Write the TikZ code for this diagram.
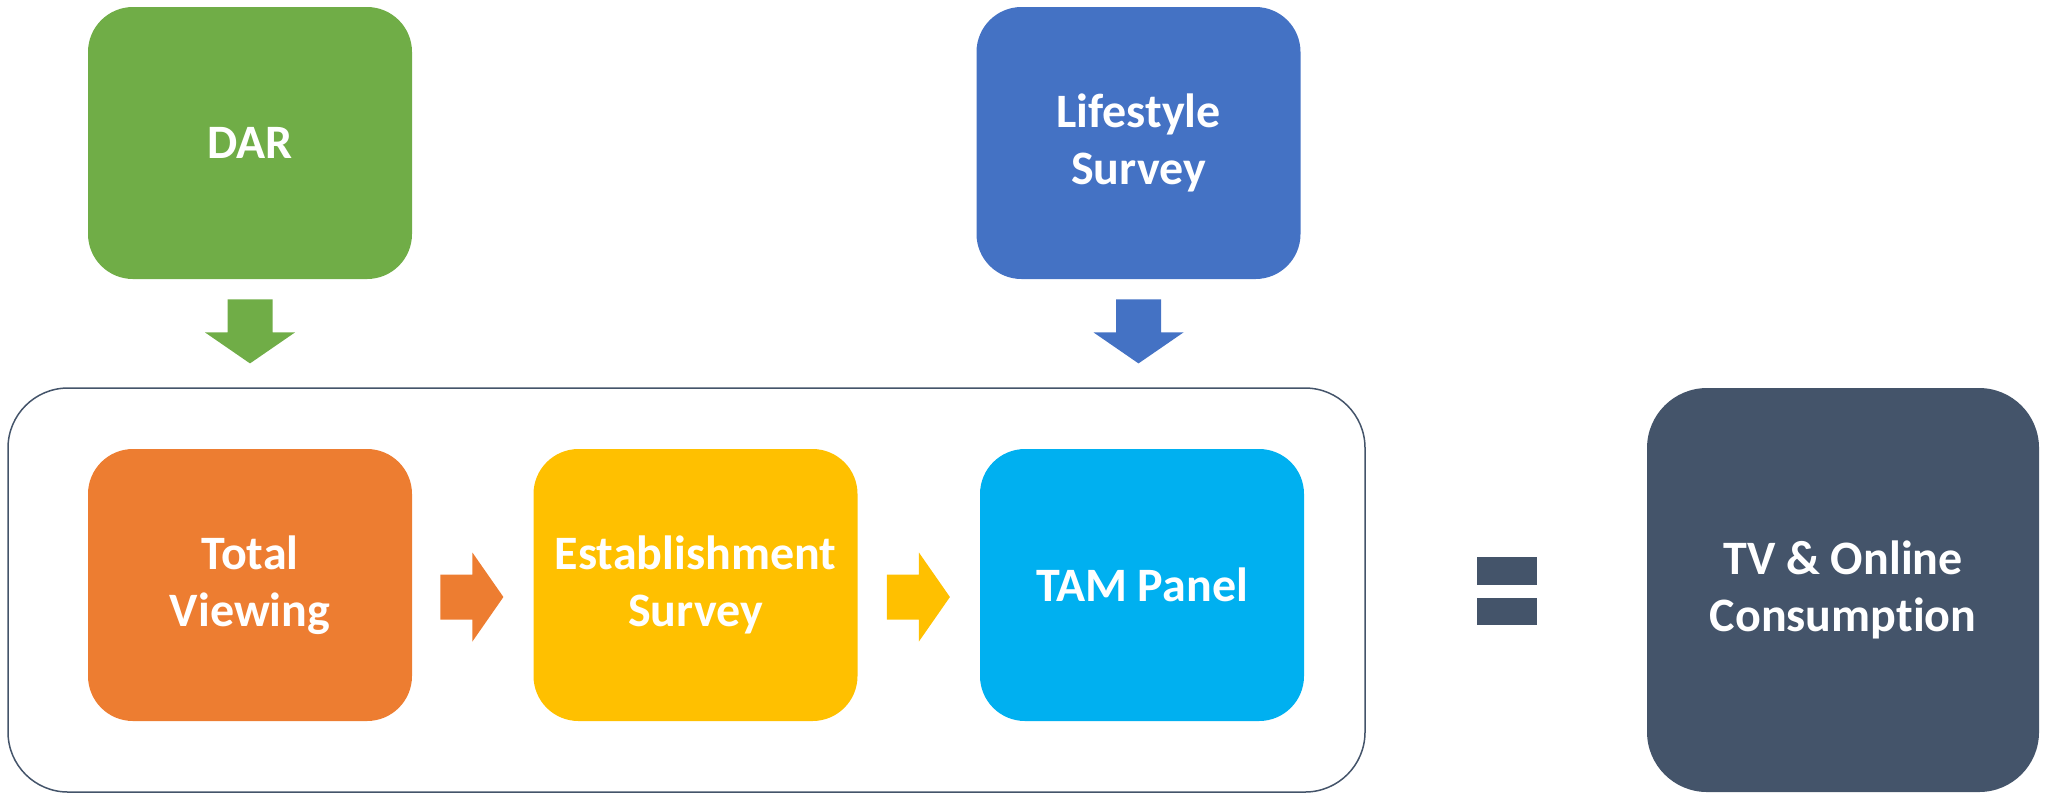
\documentclass[tikz,border=0pt]{standalone}
\usepackage{fontspec}
\setmainfont[Ligatures=NoCommon]{Carlito}
\usetikzlibrary{calc}
\definecolor{cgreen}{HTML}{70AD47}
\definecolor{cblue}{HTML}{4472C4}
\definecolor{corange}{HTML}{ED7D31}
\definecolor{cyellow}{HTML}{FFC000}
\definecolor{ccyan}{HTML}{00B0F0}
\definecolor{cslate}{HTML}{44546A}
\begin{document}
\begin{tikzpicture}[x=0.5pt,y=-0.5pt,
  label text/.style={text=white, align=center,
    font=\bfseries\fontsize{24}{28.5}\selectfont},
  box/.style={label text, rounded corners=22.5pt, minimum width=162pt,
    minimum height=136pt, inner sep=0pt},
  bigbox/.style={rounded corners=30pt, minimum height=202pt, inner sep=0pt},
]
\useasboundingbox (0,0) rectangle (2048,800);

% grouping frame and result box
\node[bigbox, draw=cslate, line width=0.75pt, minimum width=678.5pt] (group) at (686.5,590) {};
\node[bigbox, label text, fill=cslate, minimum width=196pt] (tv) at (1843,590) {TV \& Online\\Consumption};

% source boxes
\node[box, fill=cgreen] (dar) at (250,143) {DAR};
\node[box, fill=cblue] (life) at (1138.5,143) {Lifestyle\\Survey};

% panel chain
\node[box, fill=corange] (total) at (250,585) {Total\\Viewing};
\node[box, fill=cyellow] (estab) at (695.5,585) {Establishment\\Survey};
\node[box, fill=ccyan] (tam) at (1142,585) {TAM Panel};

% block arrows pointing down into the frame
\foreach \src/\col in {dar/cgreen, life/cblue}{
  \fill[\col] ($(\src.south)+(-22.5,20)$) -- ++(45,0) -- ++(0,33) -- ++(22.5,0)
    -- ++(-45,31) -- ++(-45,-31) -- ++(22.5,0) -- cycle;
}

% block arrows along the chain
\foreach \src/\col/\gap in {total/corange/28, estab/cyellow/29}{
  \fill[\col] ($(\src.east)+(\gap,-10.5)$) -- ++(32,0) -- ++(0,-22) -- ++(31,44.5)
    -- ++(-31,44.5) -- ++(0,-22) -- ++(-32,0) -- cycle;
}

% equals sign
\coordinate (eq) at (1507,591);
\fill[cslate] ($(eq)+(-30,-34)$) rectangle ($(eq)+(30,-6)$);
\fill[cslate] ($(eq)+(-30,7)$) rectangle ($(eq)+(30,34)$);
\end{tikzpicture}
\end{document}
